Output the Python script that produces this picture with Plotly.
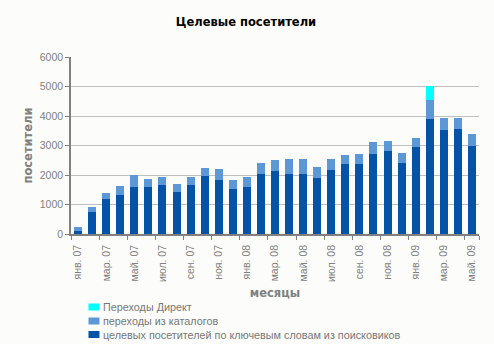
import plotly.graph_objects as go

# Monthly target visitors, Jan 2007 – May 2009
months = ["янв.", "фев.", "мар.", "апр.", "май.", "июн.",
          "июл.", "авг.", "сен.", "окт.", "ноя.", "дек."]
categories = [f"{months[i % 12]} {7 + i // 12:02d}" for i in range(29)]

search_keywords = [90, 740, 1180, 1315, 1590, 1590, 1655, 1420, 1655, 1960,
                   1825, 1520, 1590, 2030, 2130, 2030, 2030, 1895, 2165, 2370,
                   2370, 2710, 2810, 2405, 2950, 3900, 3525, 3560, 2980]
catalogs = [135, 165, 205, 305, 405, 270, 270, 270, 270, 275,
            375, 305, 335, 375, 375, 510, 510, 375, 375, 305,
            340, 410, 340, 340, 305, 645, 410, 375, 410]
direct = [None] * 25 + [475] + [None] * 3

series_names = ["целевых посетителей по ключевым словам из поисковиков",
                "переходы из каталогов",
                "Переходы Директ"]
series_values = [search_keywords, catalogs, direct]
series_colors = ["#0453A6", "#5C97D6", "#00FFFF"]

tick_labels = categories[::2]
y_ticks = [0, 1000, 2000, 3000, 4000, 5000, 6000]

W, H = 494, 344
L, R, T, B = 70.5, 15, 57, 110
BG = "#FCFDFB"
GREY = "#808080"
FONT = "Liberation Sans"

fig = go.Figure()
for name, vals, col in zip(series_names, series_values, series_colors):
    fig.add_trace(go.Bar(x=categories, y=vals, name=name,
                         marker=dict(color=col, line=dict(width=0)),
                         showlegend=False))

fig.update_layout(
    width=W, height=H,
    margin=dict(l=L, r=R, t=T, b=B, pad=0),
    barmode="stack", bargap=0.43,
    paper_bgcolor=BG, plot_bgcolor=BG,
    font=dict(family=FONT, color=GREY, size=11),
    title=dict(text="<b>Целевые посетители</b>",
               font=dict(family="DejaVu Sans", size=11.5, color="#000000"),
               x=246 / W, xanchor="center", xref="container",
               y=1 - 22 / H, yanchor="middle", yref="container"),
)

fig.update_xaxes(
    type="category", categoryorder="array", categoryarray=categories,
    tickmode="array", tickvals=tick_labels, ticktext=tick_labels,
    tickson="boundaries", tickangle=-90,
    ticks="outside", ticklen=4, tickcolor=GREY, ticklabelstandoff=5,
    tickfont=dict(family=FONT, size=10.5, color=GREY),
    showline=True, linecolor=GREY, linewidth=1.5,
    showgrid=False,
    title=dict(text="<b>месяцы</b>", standoff=8,
               font=dict(family="DejaVu Sans", size=11.5, color=GREY)),
)
fig.update_yaxes(
    range=[0, 6000], tickmode="array", tickvals=y_ticks,
    ticks="outside", ticklen=4, tickcolor=GREY,
    tickfont=dict(family=FONT, size=10.5, color=GREY),
    showline=True, linecolor=GREY, linewidth=1.5,
    showgrid=True, gridcolor="#C0C0C0", gridwidth=1, zeroline=False,
    title=dict(text="<b>посетители</b>", standoff=5,
               font=dict(family="DejaVu Sans", size=11.5, color=GREY)),
)

# Legend drawn as a compact list below the chart, top entry first
pw, ph = W - L - R, H - T - B
def px_x(v):
    return (v - L) / pw
def px_y(v):
    return (H - B - v) / ph

row_y = [307, 321, 334.5]
for i, (name, col) in enumerate(zip(series_names[::-1], series_colors[::-1])):
    yc = row_y[i]
    fig.add_shape(type="rect", xref="paper", yref="paper",
                  x0=px_x(88), x1=px_x(99), y0=px_y(yc + 3.5), y1=px_y(yc - 3.5),
                  fillcolor=col, line=dict(width=0))
    fig.add_annotation(text=name, xref="paper", yref="paper",
                       x=px_x(101), y=px_y(yc), xanchor="left", yanchor="middle",
                       showarrow=False,
                       font=dict(family=FONT, size=10.8, color="#777777"))

fig.write_html("out.html")
